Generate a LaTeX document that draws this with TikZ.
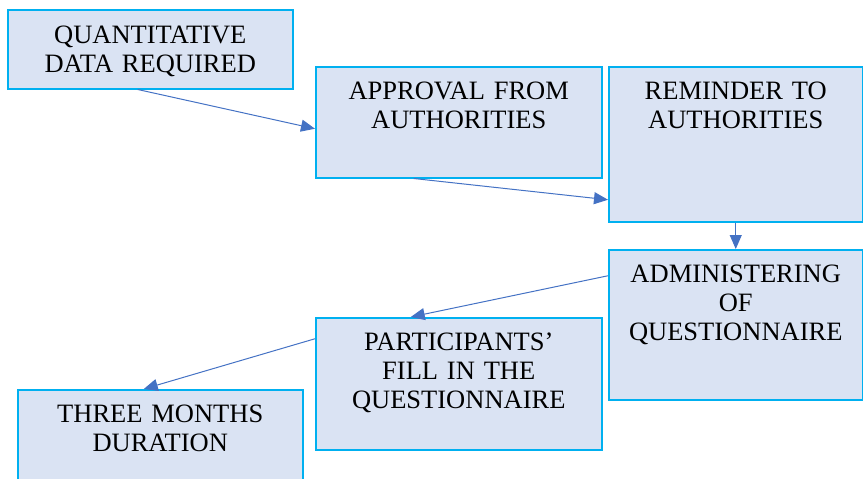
\documentclass[tikz,border=0pt]{standalone}
\usepackage{fontspec}
\setmainfont{Liberation Serif}
\usetikzlibrary{arrows.meta, calc, positioning}
\definecolor{boxline}{RGB}{0,176,240}
\definecolor{boxfill}{RGB}{218,227,243}
\definecolor{arrowblue}{RGB}{68,114,196}
\tikzset
{
stage/.style={draw=boxline, fill=boxfill, line width=1.5pt, inner sep=0pt, align=center, anchor=north west, font=\fontsize{26.5}{29}\selectfont, text height=33pt},
flow/.style={-{Triangle[length=14pt, width=12pt]}, color=arrowblue, line width=1pt}
}

\begin{document}
\begin{tikzpicture}[x=1pt, y=-1pt]
		\clip (0,0) rectangle (863,479);

		\node[stage, text width=285pt, text height=34pt, text depth=45pt] (req) at (7,9) {QUANTITATIVE\\DATA REQUIRED};
		\node[stage, text width=286pt, text depth=78pt] (appr) at (315,66) {APPROVAL FROM\\AUTHORITIES};
		\node[stage, text width=254pt, text depth=122pt] (remi) at (608,66) {REMINDER TO\\AUTHORITIES};
		\node[stage, text width=254pt, text depth=117pt] (admin) at (608,249) {ADMINISTERING\\OF\\QUESTIONNAIRE};
		\node[stage, text width=286pt, text depth=99pt] (part) at (315,317) {PARTICIPANTS’\\FILL IN THE\\QUESTIONNAIRE};
		\node[stage, text width=285pt, text depth=78pt] (dur) at (17,389) {THREE MONTHS\\DURATION};

		\path[flow] ([xshift=-12.5pt]req.south) edge ([yshift=-6.5pt]appr.west)
		([xshift=-45pt]appr.south) edge ([yshift=-55.5pt]remi.west)
		(remi.south) edge (admin.north);
		\path[flow] ([yshift=49pt]admin.west) edge ([xshift=-48pt]part.north)
		([yshift=45pt]part.west) edge ([xshift=-16.5pt]dur.north);
	\end{tikzpicture}
\end{document}
